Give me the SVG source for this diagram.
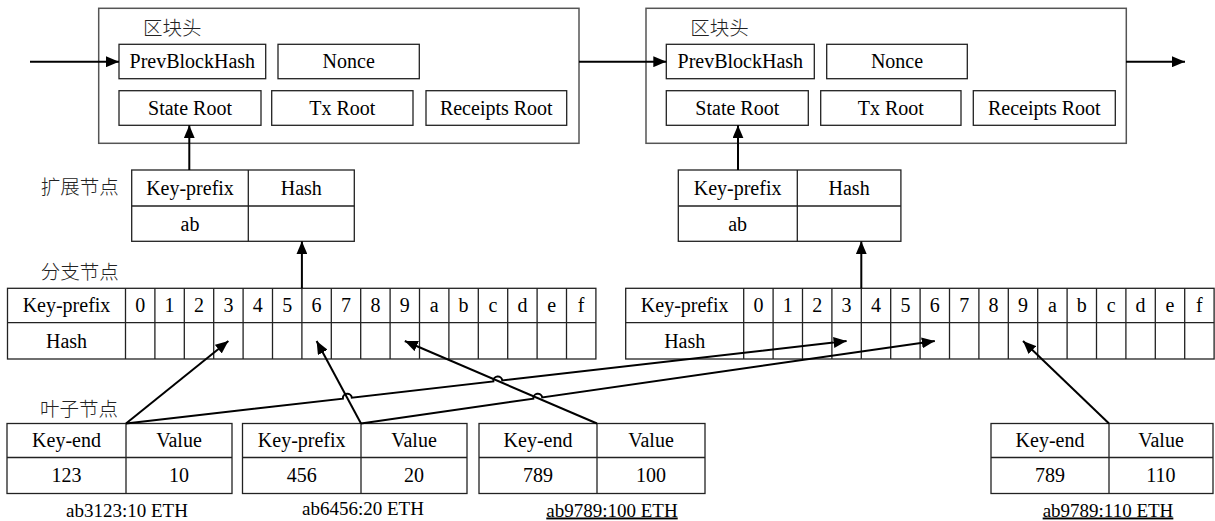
<svg xmlns="http://www.w3.org/2000/svg" width="1215" height="521" viewBox="0 0 1215 521">
<style>
.box{fill:#fff;stroke:#222;stroke-width:1.3}
.outer{fill:#fff;stroke:#555;stroke-width:1.5}
.ln{stroke:#222;stroke-width:1.3;fill:none}
.t{font-family:"Liberation Serif","Times New Roman",serif;font-size:20px;text-anchor:middle;fill:#000}
.lbl{font-family:"Liberation Serif","Times New Roman",serif;font-size:19px;text-anchor:middle;fill:#000}
.cjk{font-family:"Noto Sans CJK SC",sans-serif;font-size:19.5px;font-weight:300;fill:#222}
.arr{stroke:#000;stroke-width:2;fill:none;marker-end:url(#ah)}
</style>
<defs>
<marker id="ah" viewBox="0 0 13 11" refX="13" refY="5.5" markerWidth="13" markerHeight="11" markerUnits="userSpaceOnUse" orient="auto"><path d="M0,0 L13,5.5 L0,11 z" fill="#000"/></marker>
</defs>

<g id="block1">
<rect class="outer" x="98.7" y="8.3" width="480.3" height="135"/>
<text class="cjk" x="143" y="34.5">区块头</text>
<rect class="box" x="119" y="44.3" width="146.7" height="34.4"/>
<text class="t" x="192.3" y="68.3">PrevBlockHash</text>
<rect class="box" x="278" y="44.3" width="141.3" height="34.4"/>
<text class="t" x="348.7" y="68.3">Nonce</text>
<rect class="box" x="119" y="90.7" width="142" height="34.6"/>
<text class="t" x="190" y="114.8">State Root</text>
<rect class="box" x="271.7" y="90.7" width="141.3" height="34.6"/>
<text class="t" x="342.3" y="114.8">Tx Root</text>
<rect class="box" x="426" y="90.7" width="140.7" height="34.6"/>
<text class="t" x="496.3" y="114.8">Receipts Root</text>
</g>

<g id="block2" transform="translate(547.3,0)">
<rect class="outer" x="98.7" y="8.3" width="480.3" height="135"/>
<text class="cjk" x="143" y="34.5">区块头</text>
<rect class="box" x="119" y="44.3" width="148" height="34.4"/>
<text class="t" x="193" y="68.3">PrevBlockHash</text>
<rect class="box" x="279.4" y="44.3" width="140.6" height="34.4"/>
<text class="t" x="349.7" y="68.3">Nonce</text>
<rect class="box" x="119" y="90.7" width="142" height="34.6"/>
<text class="t" x="190" y="114.8">State Root</text>
<rect class="box" x="273.4" y="90.7" width="140.3" height="34.6"/>
<text class="t" x="343.5" y="114.8">Tx Root</text>
<rect class="box" x="426" y="90.7" width="142" height="34.6"/>
<text class="t" x="497" y="114.8">Receipts Root</text>
</g>

<g id="ext1">
<text class="cjk" x="40.7" y="194">扩展节点</text>
<rect class="box" x="131.7" y="170" width="222.6" height="71.3"/>
<path class="ln" d="M248.3,170 V241.3 M131.7,206 H354.3"/>
<text class="t" x="190" y="195">Key-prefix</text>
<text class="t" x="301.3" y="195">Hash</text>
<text class="t" x="190" y="230.5">ab</text>
</g>

<g id="ext2" transform="translate(546.6,0)">
<rect class="box" x="131.7" y="170" width="222.6" height="71.3"/>
<path class="ln" d="M250.7,170 V241.3 M131.7,206 H354.3"/>
<text class="t" x="191" y="195">Key-prefix</text>
<text class="t" x="302.5" y="195">Hash</text>
<text class="t" x="191" y="230.5">ab</text>
</g>

<g id="branch1">
<text class="cjk" x="40.7" y="279">分支节点</text>
<rect class="box" x="7.5" y="288.3" width="588.4" height="70.7"/>
<path class="ln" d="M7.5,322.7 H595.9 M125.5,288.3 V359 M154.9,288.3 V359 M184.3,288.3 V359 M213.7,288.3 V359 M243.1,288.3 V359 M272.5,288.3 V359 M301.9,288.3 V359 M331.3,288.3 V359 M360.7,288.3 V359 M390.1,288.3 V359 M419.5,288.3 V359 M448.9,288.3 V359 M478.3,288.3 V359 M507.7,288.3 V359 M537.1,288.3 V359 M566.5,288.3 V359"/>
<text class="t" x="66.5" y="312.3">Key-prefix</text>
<text class="t" x="66.5" y="347.6">Hash</text>
<text class="t" x="140.2" y="312.3">0</text>
<text class="t" x="169.6" y="312.3">1</text>
<text class="t" x="199" y="312.3">2</text>
<text class="t" x="228.4" y="312.3">3</text>
<text class="t" x="257.8" y="312.3">4</text>
<text class="t" x="287.2" y="312.3">5</text>
<text class="t" x="316.6" y="312.3">6</text>
<text class="t" x="346" y="312.3">7</text>
<text class="t" x="375.4" y="312.3">8</text>
<text class="t" x="404.8" y="312.3">9</text>
<text class="t" x="434.2" y="312.3">a</text>
<text class="t" x="463.6" y="312.3">b</text>
<text class="t" x="493" y="312.3">c</text>
<text class="t" x="522.4" y="312.3">d</text>
<text class="t" x="551.8" y="312.3">e</text>
<text class="t" x="581.2" y="312.3">f</text>
</g>

<g id="branch2" transform="translate(618.2,0)">
<rect class="box" x="7.5" y="288.3" width="588.4" height="70.7"/>
<path class="ln" d="M7.5,322.7 H595.9 M125.5,288.3 V359 M154.9,288.3 V359 M184.3,288.3 V359 M213.7,288.3 V359 M243.1,288.3 V359 M272.5,288.3 V359 M301.9,288.3 V359 M331.3,288.3 V359 M360.7,288.3 V359 M390.1,288.3 V359 M419.5,288.3 V359 M448.9,288.3 V359 M478.3,288.3 V359 M507.7,288.3 V359 M537.1,288.3 V359 M566.5,288.3 V359"/>
<text class="t" x="66.5" y="312.3">Key-prefix</text>
<text class="t" x="66.5" y="347.6">Hash</text>
<text class="t" x="140.2" y="312.3">0</text>
<text class="t" x="169.6" y="312.3">1</text>
<text class="t" x="199" y="312.3">2</text>
<text class="t" x="228.4" y="312.3">3</text>
<text class="t" x="257.8" y="312.3">4</text>
<text class="t" x="287.2" y="312.3">5</text>
<text class="t" x="316.6" y="312.3">6</text>
<text class="t" x="346" y="312.3">7</text>
<text class="t" x="375.4" y="312.3">8</text>
<text class="t" x="404.8" y="312.3">9</text>
<text class="t" x="434.2" y="312.3">a</text>
<text class="t" x="463.6" y="312.3">b</text>
<text class="t" x="493" y="312.3">c</text>
<text class="t" x="522.4" y="312.3">d</text>
<text class="t" x="551.8" y="312.3">e</text>
<text class="t" x="581.2" y="312.3">f</text>
</g>

<text class="cjk" x="40" y="416">叶子节点</text>

<g id="leaf1">
<rect class="box" x="7" y="423.5" width="225" height="70"/>
<path class="ln" d="M126,423.5 V493.5 M7,457.5 H232"/>
<text class="t" x="66.5" y="447">Key-end</text>
<text class="t" x="179" y="447">Value</text>
<text class="t" x="66.5" y="482">123</text>
<text class="t" x="179" y="482">10</text>
<text class="lbl" x="127" y="516.5">ab3123:10 ETH</text>
</g>

<g id="leaf2">
<rect class="box" x="242.5" y="423.5" width="224.5" height="70"/>
<path class="ln" d="M361,423.5 V493.5 M242.5,457.5 H467"/>
<text class="t" x="301.7" y="447">Key-prefix</text>
<text class="t" x="414" y="447">Value</text>
<text class="t" x="301.7" y="482">456</text>
<text class="t" x="414" y="482">20</text>
<text class="lbl" x="363" y="515">ab6456:20 ETH</text>
</g>

<g id="leaf3">
<rect class="box" x="479" y="423.5" width="226" height="70"/>
<path class="ln" d="M597,423.5 V493.5 M479,457.5 H705"/>
<text class="t" x="538" y="447">Key-end</text>
<text class="t" x="651" y="447">Value</text>
<text class="t" x="538" y="482">789</text>
<text class="t" x="651" y="482">100</text>
<text class="lbl" x="612" y="516.5" text-decoration="underline">ab9789:100 ETH</text>
</g>

<g id="leaf4">
<rect class="box" x="991" y="423.5" width="222" height="70"/>
<path class="ln" d="M1109,423.5 V493.5 M991,457.5 H1213"/>
<text class="t" x="1050" y="447">Key-end</text>
<text class="t" x="1161" y="447">Value</text>
<text class="t" x="1050" y="482">789</text>
<text class="t" x="1161" y="482">110</text>
<text class="lbl" x="1108" y="516.5" text-decoration="underline">ab9789:110 ETH</text>
</g>

<g id="connectors">
<path class="arr" d="M30,61.7 H119"/>
<path class="arr" d="M579,61.7 H666.3"/>
<path class="arr" d="M1126,61.7 H1185"/>
<path class="arr" d="M189.3,170 V125.3"/>
<path class="arr" d="M738,170 V125.3"/>
<path class="arr" d="M301.9,288.3 V241.3"/>
<path class="arr" d="M861.3,288.3 V241.3"/>
<path class="arr" d="M126,423.5 L228.4,341"/>
<path class="arr" d="M126,423.5 L342.89,398.67 A4.5,4.5 0 0 1 351.83,397.65 L493.33,381.44 A4.5,4.5 0 0 1 502.27,380.42 L846.6,341"/>
<path class="arr" d="M361,423.5 L316.6,341"/>
<path class="arr" d="M361,423.5 L533.33,398.72 A4.5,4.5 0 0 1 542.23,397.44 L934.8,341"/>
<path class="arr" d="M597,423.5 L404.8,341"/>
<path class="arr" d="M1109,423.5 L1023,341"/>
</g>
</svg>
